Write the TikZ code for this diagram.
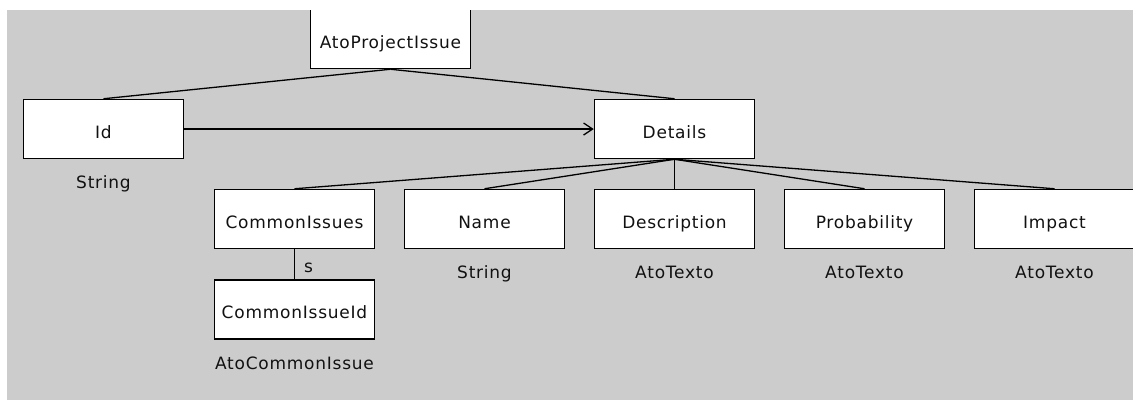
\documentclass[tikz,border=0pt]{standalone}
\usepackage{fontspec}
\setmainfont{DejaVu Sans}[LetterSpace=4.5]
\usetikzlibrary{arrows.meta}
\definecolor{bg}{HTML}{CCCCCC}
\definecolor{txt}{HTML}{111111}
\begin{document}
\begin{tikzpicture}[x=1pt,y=-1pt,
  box/.style={draw=black, fill=white, line width=1.5pt, minimum width=160pt,
    minimum height=59pt, inner sep=0pt, text height=18.5pt, text depth=0pt,
    font=\fontsize{17}{19}\selectfont, text=txt},
  typ/.style={inner sep=0pt, anchor=base, font=\fontsize{17}{19}\selectfont, text=txt},
  conn/.style={line width=1.3pt, draw=black}]
\useasboundingbox (0,0) rectangle (1133,400);
\fill[bg] (7,10) rectangle (1133,400);
\begin{scope}
\clip (7,10) rectangle (1133,400);
\node[box] (top) at (390.5,39) {AtoProjectIssue};
\node[box] (id) at (103.5,129) {Id};
\node[box] (det) at (674.5,129) {Details};
\node[box] (ci) at (294.5,219) {CommonIssues};
\node[box] (nm) at (484.5,219) {Name};
\node[box] (ds) at (674.5,219) {Description};
\node[box] (pr) at (864.5,219) {Probability};
\node[box] (im) at (1054.5,219) {Impact};
\node[box] (cid) at (294.5,309.5) {CommonIssueId};
\node[typ] (idt) at (103.5,188) {String};
\node[typ] (nmt) at (484.5,278) {String};
\node[typ] (dst) at (674.5,278) {AtoTexto};
\node[typ] (prt) at (864.5,278) {AtoTexto};
\node[typ] (imt) at (1054.5,278) {AtoTexto};
\node[typ] (cidt) at (294.5,369) {AtoCommonIssue};
\draw[conn] (top.south) -- (id.north);
\draw[conn] (top.south) -- (det.north);
\draw[conn, -{Straight Barb[length=9pt,width=12pt]}] (id.east) -- (det.west);
\draw[conn] (det.south) -- (ci.north);
\draw[conn] (det.south) -- (nm.north);
\draw[conn] (det.south) -- (ds.north);
\draw[conn] (det.south) -- (pr.north);
\draw[conn] (det.south) -- (im.north);
\draw[conn] (ci.south) -- (cid.north) node[typ, pos=0.5, anchor=base west, xshift=9pt, yshift=-8pt] (s) {s};
\end{scope}
\end{tikzpicture}
\end{document}
